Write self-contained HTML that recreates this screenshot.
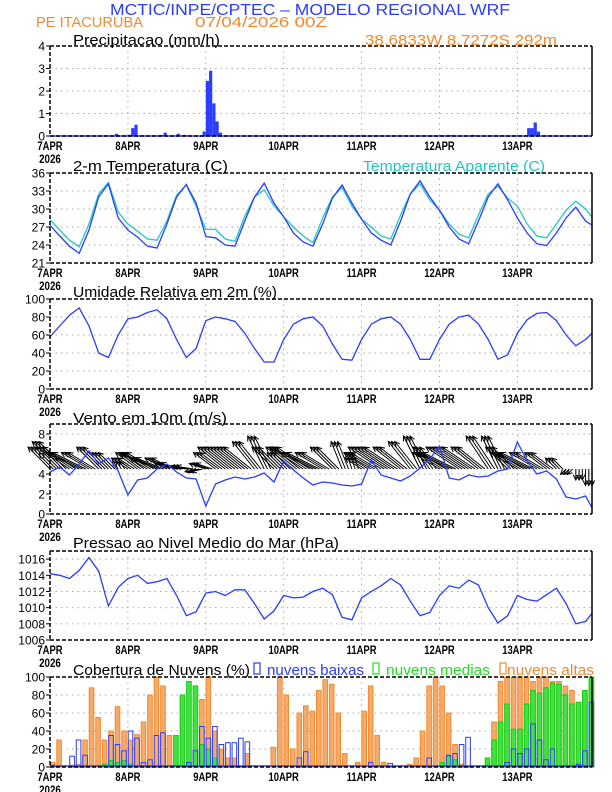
<!DOCTYPE html>
<html><head><meta charset="utf-8"><style>
html,body{margin:0;padding:0;background:#fff}
svg{display:block;font-family:"Liberation Sans",sans-serif}
</style></head><body>
<svg id="chart" width="612" height="792" viewBox="0 0 612 792" xmlns="http://www.w3.org/2000/svg">
<text x="110" y="15" font-size="16" fill="#2a3cff" textLength="400" lengthAdjust="spacingAndGlyphs">MCTIC/INPE/CPTEC – MODELO REGIONAL WRF</text>
<text x="36" y="27" font-size="15" fill="#f08a30" textLength="107" lengthAdjust="spacingAndGlyphs">PE ITACURUBA</text>
<text x="195" y="27" font-size="15" fill="#f08a30" textLength="132" lengthAdjust="spacingAndGlyphs">07/04/2026 00Z</text>
<text x="365" y="45" font-size="15" fill="#f08a30" textLength="192" lengthAdjust="spacingAndGlyphs">38.6833W 8.7272S 292m</text>
<g id="root"></g>
</svg>
<script>
const days=["7APR","8APR","9APR","10APR","11APR","12APR","13APR"];
const hours3=[0,3,6,9,12,15,18,21,24,27,30,33,36,39,42,45,48,51,54,57,60,63,66,69,72,75,78,81,84,87,90,93,96,99,102,105,108,111,114,117,120,123,126,129,132,135,138,141,144,147,150,153,156,159,162,165,167];
const precipHours=[20,24,25,26,34,35,39,41,47,48,49,50,51,52,123,130,147,148,149,150];
const precipVals=[0.1,0.05,0.35,0.5,0.05,0.15,0.1,0.05,0.2,2.45,2.9,1.45,0.65,0.15,0.05,0.05,0.35,0.35,0.6,0.2];
const tempVals=[27.3,25.5,23.8,22.6,26.5,32,34.2,28.5,26.5,25.3,23.8,23.5,27.5,32,34.1,31,25.4,25.2,24,23.8,28,32,34.3,31,28.7,26,24.5,23.8,27.5,31.8,34,31,28.3,26,24.8,24,28,32.5,34.7,32,29.8,27,25,24.2,28,32,34.2,31.5,28.5,26,24.2,23.9,26,28.5,30.3,28,27.3];
const apparentVals=[28.2,26.5,24.8,23.7,27.5,32.5,34.4,29.5,27.5,26.3,25,24.8,28,32.3,34,30.5,26.6,26.6,25,24.6,28.8,32,33.2,30.5,28.7,27,25.5,24.4,28.5,32,33.6,30.5,28.3,27,25.5,25,29,32.5,34.2,31.5,29.8,27.5,25.8,25.2,29,32.5,33.8,31.8,30.5,27.5,25.5,25.2,27.5,29.8,31.3,30,28.6];
const rhVals=[58,70,82,90,70,40,35,60,78,80,85,88,78,55,35,45,76,80,78,75,62,45,30,30,55,72,78,80,70,50,33,32,55,72,78,80,72,55,33,33,55,72,80,82,72,55,33,38,62,77,84,85,76,60,48,55,62];
const windVals=[4.2,4.7,3.9,5.0,6.3,5.0,5.6,4.3,1.9,3.4,3.6,4.5,5.0,4.2,3.6,3.5,0.8,3.0,3.4,3.7,3.5,3.7,4.1,3.2,5.3,4.4,3.6,2.9,3.2,3.1,2.9,2.8,3.0,5.4,3.9,3.6,3.3,3.8,4.6,5.5,6.8,3.6,3.4,3.9,3.7,3.8,4.3,4.5,7.2,5.3,4.0,4.3,3.5,1.7,1.5,1.8,0.6];
const windU=[-4,-5,-6,-6,-5,-4,-3,-1,-3,-4,-5,-5,-4,-4,-3,-2,-3,-4,-5,-5,-5,-4,-3,-4,-3,-5,-6,-6,-5,-4,-2,-1,-3,-5,-6,-6,-5,-4,-3,-3,-5,-6,-6,-6,-5,-4,-3,-4,-5,-6,-5,-4,-2,-1,0,0,0];
const windV=[4,5,4,3,3,4,3,1.5,2,3,3,2,2,1,0.5,-0.5,1,3,4,4,4,5,6,4,3,4,4,3,3,4,5,3,2,3,4,4,4,5,6,4,3,3,4,4,4,6,6,4,3,3,3,3,2,-1,-2,-3,-3];
const pressVals=[1014.2,1014.0,1013.6,1014.6,1016.2,1014.5,1010.2,1012.5,1013.6,1014.0,1013.0,1013.2,1013.6,1011.5,1009.0,1009.5,1011.8,1012.0,1011.5,1012.2,1012.2,1010.5,1008.6,1009.6,1011.5,1011.2,1011.3,1012.0,1012.4,1011.6,1008.8,1008.5,1011.2,1012.0,1012.7,1013.6,1012.8,1010.8,1009.0,1009.4,1011.5,1012.7,1012.4,1013.4,1012.8,1010.0,1008.1,1009.0,1011.5,1011.0,1010.8,1011.6,1012.4,1010.5,1008.0,1008.3,1009.3];
const cloudHigh=[5,30,0,2,3,30,88,55,30,40,67,40,30,36,50,80,100,90,35,3,0,3,20,75,100,40,20,10,10,0,15,0,0,0,22,100,80,20,60,68,62,85,97,92,60,15,0,5,62,90,35,5,0,0,0,3,10,40,90,100,90,60,25,3,0,0,0,3,50,95,100,100,100,100,95,100,100,95,95,90,85,70,80,95];
const cloudMid=[0,0,0,0,0,0,0,0,3,7,5,7,3,0,0,0,0,0,0,35,80,95,90,25,20,10,0,0,0,0,0,0,0,0,0,0,0,0,0,0,0,0,0,0,0,0,0,0,0,0,0,0,0,0,0,0,0,0,0,0,5,12,8,0,0,0,0,10,30,50,70,42,42,70,85,82,88,93,92,80,70,72,85,100];
const cloudLow=[2,0,0,12,30,13,0,0,0,35,25,18,40,32,5,8,35,38,0,0,0,5,18,45,32,45,25,27,27,32,28,0,0,0,0,0,0,0,10,17,0,0,0,0,0,0,0,0,0,5,0,0,4,0,0,0,0,0,10,0,0,13,15,25,33,0,0,0,0,0,5,20,15,20,48,30,8,20,0,0,0,3,18,72];

const NS="http://www.w3.org/2000/svg";
const root=document.getElementById('root');
const X0=50,DAYW=77.9,XR=592;
const xH=h=>X0+h/24*DAYW;
function el(tag,attrs,parent){const e=document.createElementNS(NS,tag);for(const k in attrs)e.setAttribute(k,attrs[k]);(parent||root).appendChild(e);return e;}
function panel(name,top,bot,vmin,vmax,ticks){
  const g=el('g',{});
  
  
  const yV=v=>bot-(v-vmin)/(vmax-vmin)*(bot-top);
  ticks.forEach(t=>{const y=yV(t);
    if(y>top+1&&y<bot-1){const gl=el('line',{x1:X0,x2:XR,y1:y,y2:y,stroke:'#aaa','stroke-dasharray':'1.5,4'},g);}
    el('line',{x1:X0-4,x2:X0,y1:y,y2:y,stroke:'#000'},g);
    const tx=el('text',{x:X0-5,y:y+4.5,'font-size':12,'text-anchor':'end'},g);tx.textContent=t;
    
    
  });
  days.forEach((d,i)=>{const x=X0+i*DAYW;
    if(i>0){const gl=el('line',{x1:x,x2:x,y1:top,y2:bot,stroke:'#aaa','stroke-dasharray':'1.5,4'},g);}
    const tx=el('text',{x:x,y:bot+14,'font-size':11.5,'text-anchor':'middle','font-weight':'bold',transform:`translate(${x},0) scale(0.82,1) translate(${-x},0)`},g);tx.textContent=d;
    
    
  });
  const yr=el('text',{x:X0,y:bot+27,'font-size':11.5,'text-anchor':'middle','font-weight':'bold',transform:`translate(${X0},0) scale(0.85,1) translate(${-X0},0)`},g);yr.textContent='2026';
  
  
  return {g,yV,top,bot};
}
function frame(p){
  el('line',{x1:X0,x2:XR,y1:p.top,y2:p.top,stroke:'#000','stroke-width':1.5,'stroke-dasharray':'4,2'},p.g);
  el('line',{x1:X0,x2:X0,y1:p.top,y2:p.bot,stroke:'#000','stroke-width':1.5,'stroke-dasharray':'4,2'},p.g);
  el('line',{x1:X0,x2:XR,y1:p.bot,y2:p.bot,stroke:'#000','stroke-width':1.5,'stroke-dasharray':'4,2'},p.g);
  el('line',{x1:XR,x2:XR,y1:p.top,y2:p.bot,stroke:'#000','stroke-width':1.5},p.g);
}
function title(txt,x,y,w,color,name){const t=el('text',{x:x,y:y,'font-size':15,fill:color||'#000',textLength:w,lengthAdjust:'spacingAndGlyphs'});t.textContent=txt;
  
  return t;}
function line(p,hs,vals,color,name){const d=hs.map((h,i)=>(i?'L':'M')+xH(h).toFixed(1)+','+p.yV(vals[i]).toFixed(1)).join('');
  const l=el('path',{d:d,fill:'none',stroke:color,'stroke-width':1.3},p.g);
  
  }

// Precipitation
title('Precipitacao (mm/h)',73,45,147,'#000','precip-title');
const pP=panel('precip',46,136,0,4,[0,1,2,3,4]);
el('line',{x1:X0,x2:XR,y1:136,y2:136,stroke:'#2a3cff','stroke-width':1.5},pP.g);
precipHours.forEach((h,i)=>{const y=pP.yV(precipVals[i]);
  const b=el('rect',{x:xH(h),y:y,width:3.2,height:136-y,fill:'#2a3cff'},pP.g);
  
  });
frame(pP);

// Temperature
title('2-m Temperatura (C)',73,171,155,'#000','temp-title');
title('Temperatura Aparente (C)',363,171,182,'#20c8c0','apparent-temp-title');
const pT=panel('temp',173,263,21,36,[21,24,27,30,33,36]);
line(pT,hours3,apparentVals,'#20c8c0','apparent-temp-line');
line(pT,hours3,tempVals,'#2a3cff','temp-line');
frame(pT);

// RH
title('Umidade Relativa em 2m (%)',73,297,204,'#000','rh-title');
const pR=panel('rh',299,389,0,100,[0,20,40,60,80,100]);
line(pR,hours3,rhVals,'#2a3cff','rh-line');
frame(pR);

// Wind
title('Vento em 10m (m/s)',73,423,154,'#000','wind-title');
const pW=panel('wind',424,514,0,9,[0,2,4,6,8]);
const yb=pW.yV(4.5);
hours3.forEach((h,i)=>{
  for(let k=0;k<3;k++){
    if(h+k>167)break;
    const x=xH(h+k),dx=windU[i]*5.5,dy=-windV[i]*5.5;
    const tx=x+dx,ty=yb+dy,len=Math.hypot(dx,dy)||1,ux=dx/len,uy=dy/len;
    const a=el('path',{d:`M${x},${yb}L${tx},${ty}M${tx-ux*5-uy*2.5},${ty-uy*5+ux*2.5}L${tx},${ty}L${tx-ux*5+uy*2.5},${ty-uy*5-ux*2.5}`,stroke:'#000','stroke-width':1,fill:'none'},pW.g);
    
    
  }});
line(pW,hours3,windVals,'#2a3cff','wind-speed-line');
frame(pW);

// Pressure
title('Pressao ao Nivel Medio do Mar (hPa)',73,548,266,'#000','pressure-title');
const pS=panel('pressure',551,640,1006,1017,[1006,1008,1010,1012,1014,1016]);
line(pS,hours3,pressVals,'#2a3cff','pressure-line');
frame(pS);

// Clouds
title('Cobertura de Nuvens (%)',73,675,177,'#000','cloud-title');
const lg=[[254,'nuvens baixas',267,97,'#2a3cff','legend-low'],[373,'nuvens medias',386,104,'#22dd22','legend-mid'],[500,'nuvens altas',507,87,'#f08a30','legend-high']];
lg.forEach(l=>{const r=el('rect',{x:l[0],y:663,width:6,height:11,fill:'none',stroke:l[4],'stroke-width':1.2});
  
  
  title(l[1],l[2],675,l[3],l[4],l[5]);});
const pC=panel('cloud',677,767,0,100,[0,20,40,60,80,100]);
function bars(vals,fill,stroke,name,w){vals.forEach((v,i)=>{if(v<=0)return;const y=pC.yV(v);
  const b=el('rect',{x:xH(i*2)+0.3,y:y,width:w,height:767-y,fill:fill,stroke:stroke,'stroke-width':1},pC.g);
  
  });}
bars(cloudHigh,'#f6aa6a','#f08a30','high-cloud-bar',4.6);
bars(cloudMid,'#44e044','#11cc11','mid-cloud-bar',4.6);
bars(cloudLow,'none','#2a3cff','low-cloud-bar',4.6);
el('line',{x1:X0,x2:XR,y1:766,y2:766,stroke:'#2a3cff','stroke-width':1.5},pC.g);
frame(pC);
</script>
</body></html>
